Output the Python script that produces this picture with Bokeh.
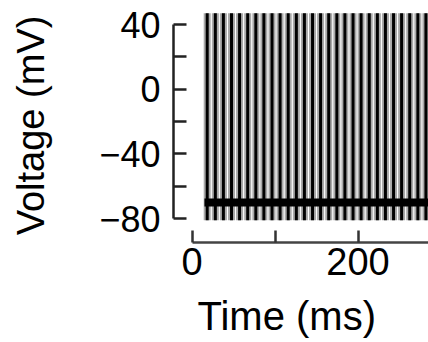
from bokeh.plotting import figure
from bokeh.models import FixedTicker, Range1d, Title, LinearAxis
from bokeh.embed import file_html
from bokeh.resources import INLINE

# ---- data ----
spike_times_ms = [18.3, 28.1, 37.8, 47.6, 57.3, 67.1, 76.9, 86.6, 96.4, 106.1,
                  115.9, 125.7, 135.4, 145.2, 154.9, 164.7, 174.5, 184.2, 194.0,
                  203.7, 213.5, 223.3, 233.0, 242.8, 252.5, 262.3, 272.1, 281.8]
spike_peak_mv = [47] * len(spike_times_ms)
spike_trough_mv = [-81] * len(spike_times_ms)
rest_time_ms = [15, 285]
rest_mv = [-70, -70]

y_ticks = [40, 20, 0, -20, -40, -60, -80]
y_tick_labels = {40: "40", 20: "", 0: "0", -20: "", -40: "\u221240", -60: "", -80: "\u221280"}
x_ticks = [0, 100, 200]
x_tick_labels = {0: "0", 100: "", 200: "200"}
x_title = "Time (ms)"
y_title = "Voltage (mV)"

FONT = "Liberation Sans"

X0, X1 = -22.3, 284.9
Y0, Y1 = -94.8, 49.9

p = figure(width=428, height=342, output_backend="svg", toolbar_location=None,
           x_range=Range1d(X0, X1), y_range=Range1d(Y0, Y1),
           min_border_left=173, min_border_right=0, min_border_top=8,
           min_border_bottom=100)
p.outline_line_color = None
p.xgrid.visible = False
p.ygrid.visible = False
p.background_fill_color = "white"

# trace
p.segment(x0=spike_times_ms, y0=spike_trough_mv, x1=spike_times_ms, y1=spike_peak_mv,
          line_color="#a8a8a8", line_width=7)
p.line(x=rest_time_ms, y=rest_mv, line_color="black", line_width=8)
p.segment(x0=spike_times_ms, y0=spike_trough_mv, x1=spike_times_ms, y1=spike_peak_mv,
          line_color="black", line_width=3)

# y axis
ya = p.yaxis[0]
ya.ticker = FixedTicker(ticks=y_ticks)
ya.major_label_overrides = y_tick_labels
ya.bounds = (-80, 40)
ya.major_tick_in = 13
ya.major_tick_out = 0
ya.minor_tick_line_color = None
ya.axis_line_width = 2.5
ya.axis_line_color = "#222222"
ya.major_tick_line_width = 2.5
ya.major_tick_line_color = "#222222"
ya.major_label_standoff = 13
ya.major_label_text_font = FONT
ya.major_label_text_font_size = "36px"
ya.major_label_text_color = "black"
ya.axis_label = y_title
ya.axis_label_text_font = FONT
ya.axis_label_text_font_size = "38px"
ya.axis_label_text_font_style = "normal"
ya.axis_label_text_color = "black"
ya.axis_label_standoff = 44

# x axis
xa = p.xaxis[0]
xa.ticker = FixedTicker(ticks=x_ticks)
xa.major_label_overrides = x_tick_labels
xa.bounds = (0, X1)
xa.major_tick_in = 12
xa.major_tick_out = 0
xa.minor_tick_line_color = None
xa.axis_line_width = 2.5
xa.axis_line_color = "#444444"
xa.major_tick_line_width = 2.5
xa.major_tick_line_color = "#333333"
xa.major_label_standoff = 5
xa.major_label_text_font = FONT
xa.major_label_text_font_size = "38px"
xa.major_label_text_color = "black"

# invisible spacer between tick labels and the x title
spacer = LinearAxis(ticker=FixedTicker(ticks=[100]), axis_line_color=None,
                    major_tick_in=0, major_tick_out=13, major_tick_line_alpha=0,
                    minor_tick_in=0, minor_tick_out=0, minor_tick_line_color=None,
                    major_label_standoff=0, major_label_text_font_size="0px",
                    major_label_text_alpha=0)
p.add_layout(spacer, "below")

p.add_layout(Title(text=x_title, align="left", offset=24, standoff=2,
                   text_font=FONT, text_font_size="40px", text_font_style="normal",
                   text_color="black"), "below")

open("out.html", "w").write(file_html(p, INLINE))
